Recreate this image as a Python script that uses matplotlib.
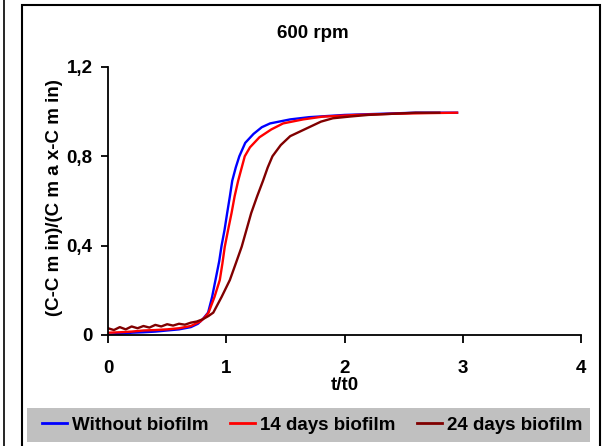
import matplotlib
matplotlib.use('Agg')
import matplotlib.pyplot as plt
from matplotlib.lines import Line2D
from matplotlib.patches import Rectangle

plt.rcParams['font.family'] = ['Liberation Sans Narrow', 'Liberation Sans', 'DejaVu Sans']
plt.rcParams['font.weight'] = 'bold'

# values
t_blue = [0, 0.1, 0.2, 0.3, 0.4, 0.5, 0.6, 0.7, 0.76, 0.8, 0.846, 0.88, 0.91, 0.94, 0.96,
          0.985, 1.007, 1.03, 1.05, 1.08, 1.11, 1.16, 1.23, 1.3, 1.37, 1.54, 1.7, 2.0, 2.3, 2.6, 2.95]
c_blue = [0.0, 0.005, 0.01, 0.012, 0.015, 0.02, 0.025, 0.035, 0.05, 0.07, 0.1, 0.17, 0.25, 0.33, 0.4,
          0.47, 0.545, 0.62, 0.69, 0.75, 0.8, 0.86, 0.9, 0.93, 0.947, 0.965, 0.975, 0.985, 0.99, 0.995, 0.995]

t_red = [0, 0.1, 0.2, 0.3, 0.4, 0.5, 0.6, 0.7, 0.78, 0.82, 0.85, 0.9, 0.945, 0.967, 0.987,
         1.015, 1.044, 1.07, 1.10, 1.156, 1.2, 1.28, 1.38, 1.48, 1.65, 1.81, 2.1, 2.4, 2.7, 2.95]
c_red = [0.01, 0.012, 0.015, 0.02, 0.022, 0.025, 0.03, 0.04, 0.06, 0.08, 0.1, 0.17, 0.246, 0.32, 0.395,
         0.47, 0.545, 0.62, 0.69, 0.8, 0.84, 0.885, 0.92, 0.947, 0.965, 0.977, 0.985, 0.99, 0.993, 0.995]

t_dark = [0, 0.05, 0.1, 0.15, 0.2, 0.25, 0.3, 0.35, 0.4, 0.45, 0.5, 0.55, 0.6, 0.65, 0.7, 0.75, 0.8,
          0.85, 0.89, 0.96, 1.03, 1.08, 1.13, 1.17, 1.21, 1.26, 1.31, 1.35, 1.39, 1.46, 1.54, 1.62,
          1.70, 1.8, 1.9, 2.05, 2.2, 2.4, 2.6, 2.8]
c_dark = [0.03, 0.022, 0.035, 0.025, 0.038, 0.03, 0.04, 0.033, 0.045, 0.038, 0.048, 0.042, 0.05,
          0.046, 0.055, 0.06, 0.07, 0.085, 0.1, 0.17, 0.246, 0.32, 0.395, 0.47, 0.545, 0.62, 0.69,
          0.75, 0.8, 0.85, 0.89, 0.91, 0.93, 0.955, 0.97, 0.978, 0.985, 0.99, 0.995, 0.995]

labels = ['Without biofilm', '14 days biofilm', '24 days biofilm']
colors = ['#0000ff', '#ff0000', '#800000']
y_ticks = [0, 0.4, 0.8, 1.2]
y_tick_labels = ['0', '0,4', '0,8', '1,2']
x_ticks = [0, 1, 2, 3, 4]

fs = 13.5

fig = plt.figure(figsize=(6.1, 4.46), dpi=100)
ax = fig.add_axes([0.177, 0.249, 0.776, 0.601])

series = [(t_blue, c_blue), (t_red, c_red), (t_dark, c_dark)]
for (t, c), col, lab in zip(series, colors, labels):
    ax.plot(t, c, color=col, lw=1.7, label=lab)

ax.set_xlim(0, 4)
ax.set_ylim(0, 1.2)
ax.set_xticks(x_ticks)
ax.set_xticklabels([str(x) for x in x_ticks])
ax.set_yticks(y_ticks)
ax.set_yticklabels(y_tick_labels)
for s in ['top', 'right']:
    ax.spines[s].set_visible(False)
for s in ['left', 'bottom']:
    ax.spines[s].set_linewidth(1.3)
ax.tick_params(axis='x', direction='out', length=6, width=1.3, pad=12, labelsize=fs)
ax.tick_params(axis='y', direction='out', length=5, width=1.3, pad=6, labelsize=fs)
for lbl in ax.get_xticklabels() + ax.get_yticklabels():
    lbl.set_fontweight('bold')

ax.set_xlabel('t/t0', fontsize=fs, fontweight='bold', labelpad=0)
fig.text(0.089, 0.556, '(C-C m in)/(C m a x-C m in)', rotation=90, fontsize=fs,
         fontweight='bold', ha='center', va='center')
fig.text(0.513, 0.924, '600 rpm', fontsize=fs, fontweight='bold', ha='center', va='center')

# outer frames
fig.add_artist(Rectangle((22 / 610, -0.01), 578 / 610, 1 - 5 / 446 + 0.01, transform=fig.transFigure,
                         fill=False, lw=1.5, edgecolor='black'))
fig.add_artist(Line2D([3.5 / 610, 3.5 / 610], [0, 1], transform=fig.transFigure, color='black', lw=1.2))

# legend band
fig.add_artist(Rectangle((27 / 610, 4 / 446), 563 / 610, 34 / 446, transform=fig.transFigure,
                         facecolor='#c0c0c0', edgecolor='none'))
handles = [Line2D([0], [0], color=c, lw=2) for c in colors]
fig.legend(handles, labels, loc='center', bbox_to_anchor=(312 / 610, 21 / 446), ncol=3,
           frameon=False, prop={'weight': 'bold', 'size': fs},
           handlelength=1.35, handletextpad=0.25, columnspacing=1.15)

fig.savefig('out.png', dpi=100)
